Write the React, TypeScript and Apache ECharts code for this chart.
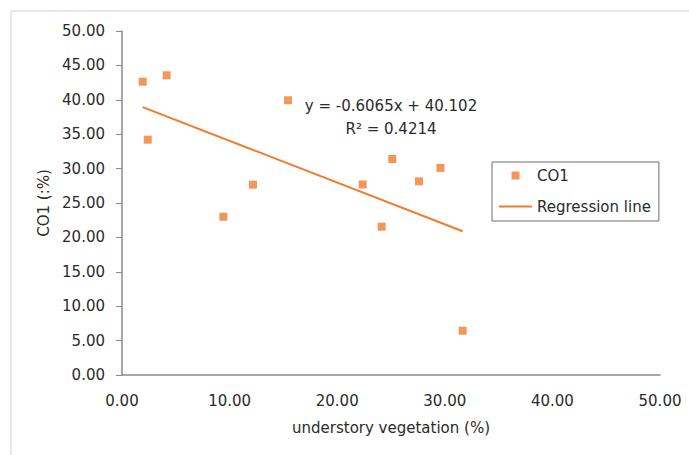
import React, { useEffect, useRef } from "react";
import * as echarts from "echarts";

const xValues: number[] = [1.92, 4.15, 2.39, 15.43, 12.17, 9.42, 25.12, 29.6, 27.6, 22.37, 24.13, 31.66];
const yValues: number[] = [42.63, 43.56, 34.2, 39.93, 27.66, 23.0, 31.4, 30.1, 28.15, 27.7, 21.56, 6.44];
const slope = -0.6065;
const intercept = 40.102;
const equationText = "y = -0.6065x + 40.102";
const r2Text = "R² = 0.4214";
const seriesNames = ["CO1", "Regression line"];
const xAxisTitle = "understory vegetation (%)";
const yAxisTitle = "CO1 (:%)";

const ORANGE = "#ED7D31";
const TEXT = "#2b2b2b";
const AXIS = "#8a8a8a";
const FONT = "DejaVu Sans";
const FS = 15;

export default function App() {
  const ref = useRef<HTMLDivElement>(null);
  useEffect(() => {
    if (!ref.current) return;
    const chart = echarts.init(ref.current, undefined, { renderer: "svg" });
    const pts = xValues.map((x, i) => [x, yValues[i]]);
    const xmin = Math.min(...xValues);
    const xmax = Math.max(...xValues);
    const reg = [
      [xmin, slope * xmin + intercept],
      [xmax, slope * xmax + intercept],
    ];
    chart.setOption({
      animation: false,
      backgroundColor: "#ffffff",
      textStyle: { fontFamily: FONT, color: TEXT },
      grid: { left: 122, right: 29, top: 31, bottom: 80, containLabel: false },
      xAxis: {
        type: "value",
        min: 0,
        max: 50,
        interval: 10,
        name: xAxisTitle,
        nameLocation: "middle",
        nameGap: 45,
        nameTextStyle: { fontSize: FS, color: TEXT, fontFamily: FONT },
        axisLine: { show: true, lineStyle: { color: AXIS, width: 1.5 } },
        axisTick: { show: false },
        splitLine: { show: false },
        axisLabel: {
          margin: 18,
          fontSize: FS,
          color: TEXT,
          fontFamily: FONT,
          formatter: (v: number) => v.toFixed(2),
        },
      },
      yAxis: {
        type: "value",
        min: 0,
        max: 50,
        interval: 5,
        name: yAxisTitle,
        nameLocation: "middle",
        nameGap: 68,
        nameRotate: 90,
        nameTextStyle: { fontSize: FS, color: TEXT, fontFamily: FONT },
        axisLine: { show: true, lineStyle: { color: AXIS, width: 1.5 } },
        axisTick: { show: true, length: 6, inside: false, lineStyle: { color: AXIS } },
        splitLine: { show: false },
        axisLabel: {
          margin: 17,
          fontSize: FS,
          color: TEXT,
          fontFamily: FONT,
          formatter: (v: number) => v.toFixed(2),
        },
      },
      legend: {
        left: 492,
        top: 162,
        orient: "vertical",
        itemWidth: 33,
        itemHeight: 8,
        itemGap: 16,
        padding: [6, 8, 7, 6],
        borderColor: "#6e6e6e",
        borderWidth: 1,
        symbolKeepAspect: true,
        textStyle: { fontSize: FS, color: TEXT, fontFamily: FONT },
        data: [
          { name: seriesNames[0], icon: "path://M0,0L1,0L1,1L0,1Z" },
          { name: seriesNames[1], itemStyle: { opacity: 0 } },
        ],
      },
      graphic: [
        {
          type: "rect",
          silent: true,
          shape: { x: 11, y: 11, width: 720, height: 480 },
          style: { fill: "none", stroke: "#d0d0d0", lineWidth: 1 },
          z: -10,
        },
        {
          type: "text",
          x: 391,
          y: 106,
          style: {
            text: equationText,
            align: "center",
            verticalAlign: "middle",
            fontSize: FS,
            fontFamily: FONT,
            fill: TEXT,
          },
        },
        {
          type: "text",
          x: 391,
          y: 129,
          style: {
            text: r2Text,
            align: "center",
            verticalAlign: "middle",
            fontSize: FS,
            fontFamily: FONT,
            fill: TEXT,
          },
        },
      ],
      series: [
        {
          name: seriesNames[0],
          type: "scatter",
          data: pts,
          symbol: "rect",
          symbolSize: 8,
          itemStyle: { color: ORANGE },
          z: 3,
        },
        {
          name: seriesNames[1],
          type: "line",
          data: reg,
          symbol: "none",
          showSymbol: false,
          lineStyle: { color: ORANGE, width: 2 },
          itemStyle: { color: ORANGE },
          z: 2,
        },
      ],
    });
    return () => chart.dispose();
  }, []);
  return (
    <div
      ref={ref}
      style={{ position: "absolute", left: 0, top: 0, width: 689, height: 455 }}
    />
  );
}
